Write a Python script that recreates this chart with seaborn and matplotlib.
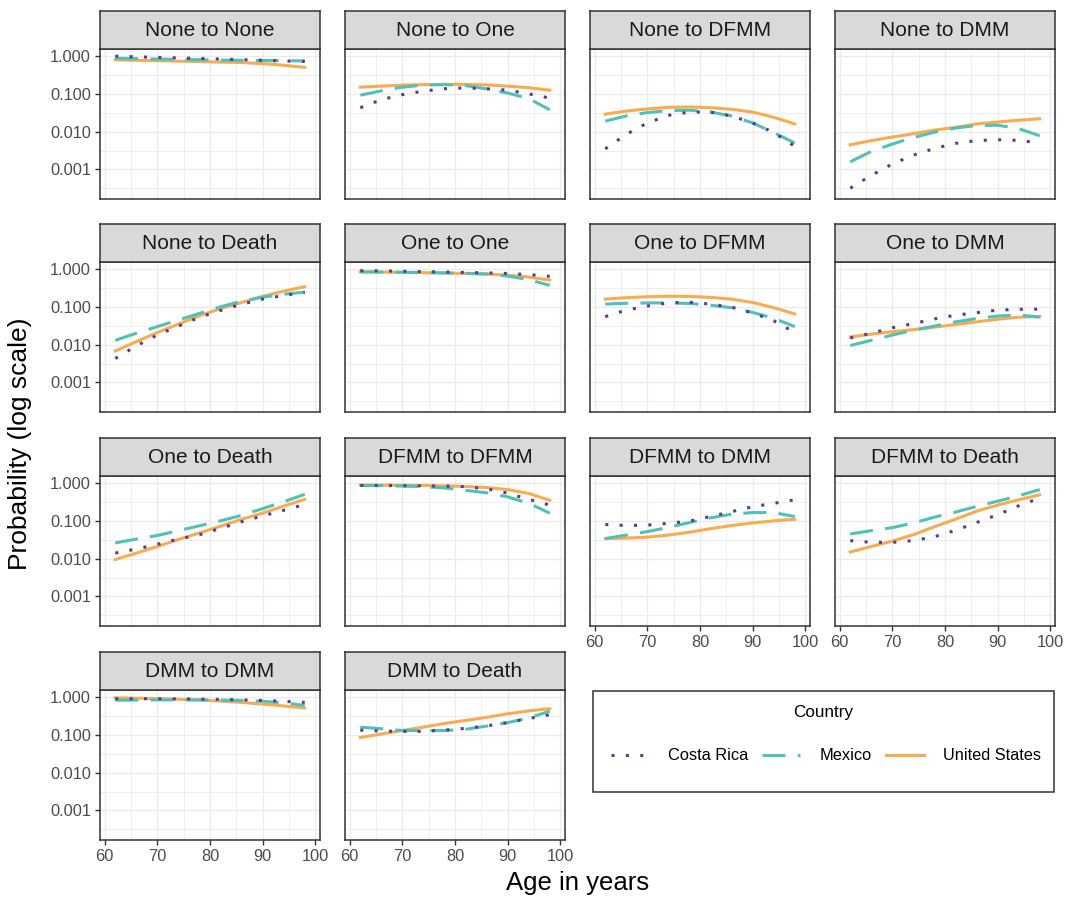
import numpy as np
import pandas as pd
import seaborn as sns
import matplotlib.pyplot as plt
from matplotlib.patches import Rectangle
from matplotlib.ticker import FixedLocator, NullFormatter

plt.rcParams['font.family'] = ['Liberation Sans', 'DejaVu Sans']

# 数据
ages = [62, 66, 70, 74, 78, 82, 86, 90, 94, 98]
countries = ['Costa Rica', 'Mexico', 'United States']
titles = ['None to None', 'None to One', 'None to DFMM', 'None to DMM',
          'None to Death', 'One to One', 'One to DFMM', 'One to DMM',
          'One to Death', 'DFMM to DFMM', 'DFMM to DMM', 'DFMM to Death',
          'DMM to DMM', 'DMM to Death']

none_none_cr = [0.99, 0.95, 0.92, 0.89, 0.86, 0.83, 0.80, 0.77, 0.74, 0.72]
none_none_mx = [0.87, 0.85, 0.83, 0.81, 0.80, 0.78, 0.77, 0.76, 0.75, 0.74]
none_none_us = [0.79, 0.77, 0.75, 0.73, 0.71, 0.69, 0.67, 0.63, 0.57, 0.50]

none_one_cr = [0.043, 0.07, 0.095, 0.118, 0.136, 0.144, 0.136, 0.125, 0.10, 0.077]
none_one_mx = [0.092, 0.12, 0.15, 0.17, 0.175, 0.165, 0.135, 0.105, 0.075, 0.038]
none_one_us = [0.15, 0.16, 0.17, 0.175, 0.178, 0.178, 0.172, 0.16, 0.145, 0.125]

none_dfmm_cr = [0.0035, 0.0085, 0.017, 0.027, 0.033, 0.033, 0.026, 0.017, 0.0095, 0.0041]
none_dfmm_mx = [0.019, 0.026, 0.032, 0.036, 0.037, 0.033, 0.026, 0.017, 0.0095, 0.005]
none_dfmm_us = [0.029, 0.035, 0.040, 0.044, 0.045, 0.043, 0.039, 0.033, 0.024, 0.016]

none_dmm_cr = [0.00032, 0.0007, 0.0014, 0.0024, 0.0036, 0.0049, 0.0058, 0.0061, 0.0059, 0.005]
none_dmm_mx = [0.0016, 0.003, 0.0047, 0.007, 0.0097, 0.0125, 0.0145, 0.0148, 0.012, 0.0078]
none_dmm_us = [0.0045, 0.0058, 0.0072, 0.0088, 0.011, 0.013, 0.016, 0.018, 0.020, 0.022]

none_death_cr = [0.0043, 0.0093, 0.018, 0.031, 0.053, 0.08, 0.117, 0.16, 0.20, 0.24]
none_death_mx = [0.013, 0.02, 0.03, 0.045, 0.067, 0.1, 0.14, 0.18, 0.215, 0.245]
none_death_us = [0.0068, 0.012, 0.021, 0.035, 0.058, 0.09, 0.13, 0.19, 0.26, 0.34]

one_one_cr = [0.90, 0.89, 0.87, 0.85, 0.83, 0.81, 0.79, 0.76, 0.71, 0.64]
one_one_mx = [0.84, 0.83, 0.82, 0.80, 0.79, 0.77, 0.74, 0.65, 0.52, 0.37]
one_one_us = [0.84, 0.83, 0.81, 0.80, 0.78, 0.76, 0.73, 0.69, 0.61, 0.51]

one_dfmm_cr = [0.055, 0.082, 0.105, 0.127, 0.132, 0.118, 0.098, 0.069, 0.043, 0.021]
one_dfmm_mx = [0.118, 0.124, 0.127, 0.127, 0.123, 0.11, 0.095, 0.071, 0.05, 0.03]
one_dfmm_us = [0.16, 0.175, 0.185, 0.19, 0.188, 0.178, 0.16, 0.13, 0.095, 0.065]

one_dmm_cr = [0.015, 0.02, 0.028, 0.036, 0.048, 0.06, 0.07, 0.082, 0.086, 0.087]
one_dmm_mx = [0.0095, 0.013, 0.018, 0.024, 0.031, 0.04, 0.049, 0.057, 0.061, 0.053]
one_dmm_us = [0.016, 0.019, 0.022, 0.025, 0.029, 0.034, 0.04, 0.047, 0.053, 0.056]

one_death_cr = [0.014, 0.018, 0.024, 0.033, 0.043, 0.063, 0.095, 0.135, 0.19, 0.27]
one_death_mx = [0.026, 0.033, 0.041, 0.055, 0.074, 0.10, 0.14, 0.21, 0.32, 0.50]
one_death_us = [0.0095, 0.014, 0.021, 0.032, 0.048, 0.072, 0.11, 0.16, 0.245, 0.37]

dfmm_dfmm_cr = [0.86, 0.86, 0.85, 0.84, 0.83, 0.80, 0.70, 0.54, 0.37, 0.26]
dfmm_dfmm_mx = [0.86, 0.85, 0.83, 0.80, 0.74, 0.64, 0.55, 0.43, 0.29, 0.16]
dfmm_dfmm_us = [0.88, 0.88, 0.87, 0.86, 0.84, 0.81, 0.76, 0.67, 0.53, 0.35]

dfmm_dmm_cr = [0.08, 0.075, 0.077, 0.086, 0.098, 0.13, 0.175, 0.235, 0.29, 0.36]
dfmm_dmm_mx = [0.034, 0.042, 0.052, 0.067, 0.09, 0.12, 0.15, 0.165, 0.165, 0.13]
dfmm_dmm_us = [0.034, 0.035, 0.037, 0.042, 0.05, 0.062, 0.075, 0.088, 0.10, 0.11]

dfmm_death_cr = [0.03, 0.027, 0.027, 0.03, 0.038, 0.056, 0.09, 0.145, 0.25, 0.40]
dfmm_death_mx = [0.045, 0.055, 0.066, 0.088, 0.125, 0.17, 0.24, 0.33, 0.46, 0.67]
dfmm_death_us = [0.015, 0.021, 0.029, 0.043, 0.07, 0.11, 0.18, 0.26, 0.36, 0.49]

dmm_dmm_cr = [0.90, 0.90, 0.90, 0.89, 0.88, 0.86, 0.84, 0.81, 0.77, 0.72]
dmm_dmm_mx = [0.82, 0.83, 0.84, 0.84, 0.84, 0.83, 0.81, 0.77, 0.70, 0.60]
dmm_dmm_us = [0.95, 0.93, 0.90, 0.87, 0.83, 0.78, 0.72, 0.65, 0.58, 0.51]

dmm_death_cr = [0.133, 0.126, 0.123, 0.124, 0.133, 0.148, 0.172, 0.21, 0.27, 0.34]
dmm_death_mx = [0.16, 0.145, 0.13, 0.13, 0.13, 0.14, 0.17, 0.21, 0.28, 0.42]
dmm_death_us = [0.085, 0.105, 0.13, 0.16, 0.2, 0.24, 0.29, 0.36, 0.43, 0.49]

series = [
    (none_none_cr, none_none_mx, none_none_us),
    (none_one_cr, none_one_mx, none_one_us),
    (none_dfmm_cr, none_dfmm_mx, none_dfmm_us),
    (none_dmm_cr, none_dmm_mx, none_dmm_us),
    (none_death_cr, none_death_mx, none_death_us),
    (one_one_cr, one_one_mx, one_one_us),
    (one_dfmm_cr, one_dfmm_mx, one_dfmm_us),
    (one_dmm_cr, one_dmm_mx, one_dmm_us),
    (one_death_cr, one_death_mx, one_death_us),
    (dfmm_dfmm_cr, dfmm_dfmm_mx, dfmm_dfmm_us),
    (dfmm_dmm_cr, dfmm_dmm_mx, dfmm_dmm_us),
    (dfmm_death_cr, dfmm_death_mx, dfmm_death_us),
    (dmm_dmm_cr, dmm_dmm_mx, dmm_dmm_us),
    (dmm_death_cr, dmm_death_mx, dmm_death_us),
]

rows = []
for t, vals in zip(titles, series):
    for c, v in zip(countries, vals):
        for a, p in zip(ages, v):
            rows.append({'transition': t, 'Country': c, 'age': a, 'prob': p})
df = pd.DataFrame(rows)

palette = {'Costa Rica': '#5B3A96', 'Mexico': '#4FC1B6', 'United States': '#F8AC51'}
dashes = {'Costa Rica': (1, 3.7), 'Mexico': (7.5, 4), 'United States': ''}

W, H = 1067, 898
fig = plt.figure(figsize=(W / 100, H / 100), dpi=100)


def px_axes(left, top, w, h):
    return fig.add_axes([left / W, 1 - (top + h) / H, w / W, h / H])


col_left = [100, 345, 590, 835]
row_top = [49, 262, 476, 690]
pw, ph, sh = 220, 150, 38

handles = labels = None
for i, t in enumerate(titles):
    r, c = divmod(i, 4)
    ax = px_axes(col_left[c], row_top[r], pw, ph)
    sub = df[df['transition'] == t]
    sns.lineplot(data=sub, x='age', y='prob', hue='Country', style='Country',
                 hue_order=countries, style_order=countries,
                 palette=palette, dashes=dashes, linewidth=2.2,
                 ax=ax, legend=(i == 0))
    # 美国在下, 哥斯达黎加在上
    for k, ln in enumerate(ax.lines):
        ln.set_zorder(5 - k)
    if i == 0:
        handles, labels = ax.get_legend_handles_labels()
        ax.get_legend().remove()

    ax.set_yscale('log')
    ax.set_ylim(10 ** -3.78, 10 ** 0.185)
    ax.set_xlim(59.1, 100.9)
    ax.set_yticks([0.001, 0.01, 0.1, 1.0])
    ax.yaxis.set_minor_locator(FixedLocator([10 ** -3.5, 10 ** -2.5, 10 ** -1.5, 10 ** -0.5]))
    ax.yaxis.set_minor_formatter(NullFormatter())
    ax.set_xticks([60, 70, 80, 90, 100])
    ax.xaxis.set_minor_locator(FixedLocator([65, 75, 85, 95]))
    ax.grid(which='major', color='#EBEBEB', lw=1.0)
    ax.grid(which='minor', color='#EBEBEB', lw=0.6)
    ax.set_axisbelow(True)
    ax.tick_params(which='minor', length=0)
    ax.tick_params(which='major', length=3.6, width=1, color='#333333',
                   labelsize=11.8, labelcolor='#4D4D4D', pad=3)
    ax.set_xlabel('')
    ax.set_ylabel('')
    for s in ax.spines.values():
        s.set_color('#333333')
        s.set_linewidth(1.1)

    if c == 0:
        ax.set_yticklabels(['0.001', '0.010', '0.100', '1.000'])
    else:
        ax.tick_params(axis='y', which='major', length=0, labelleft=False)
    show_x = (r == 3) or (r == 2 and c >= 2)
    if not show_x:
        ax.tick_params(axis='x', which='major', length=0, labelbottom=False)

    # 分面标题条
    sax = px_axes(col_left[c], row_top[r] - sh, pw, sh)
    sax.set_facecolor('#D9D9D9')
    sax.set_xticks([])
    sax.set_yticks([])
    for s in sax.spines.values():
        s.set_color('#333333')
        s.set_linewidth(1.1)
    sax.text(0.5, 0.48, t, ha='center', va='center', fontsize=15, color='#1A1A1A',
             transform=sax.transAxes)

fig.text(20 / W, 1 - 444 / H, 'Probability (log scale)', rotation=90,
         ha='center', va='center', fontsize=19, color='black')
fig.text(577.5 / W, 1 - 883 / H, 'Age in years', ha='center', va='center',
         fontsize=18.5, color='black')

# 图例
fig.add_artist(Rectangle((593 / W, 1 - 792 / H), (1054 - 593) / W, (792 - 691) / H,
                         transform=fig.transFigure, fill=False,
                         edgecolor='#333333', lw=1.1))
fig.text(823.5 / W, 1 - 713 / H, 'Country', ha='center', va='center',
         fontsize=12.3, color='black')
for h in handles:
    h.set_linewidth(2.2)
fig.legend(handles, labels, loc='center', bbox_to_anchor=(826 / W, 1 - 756 / H),
           ncol=3, frameon=False, fontsize=11.8, handlelength=2.3,
           handletextpad=1.2, columnspacing=0.85)

fig.savefig('out.png', dpi=100)
